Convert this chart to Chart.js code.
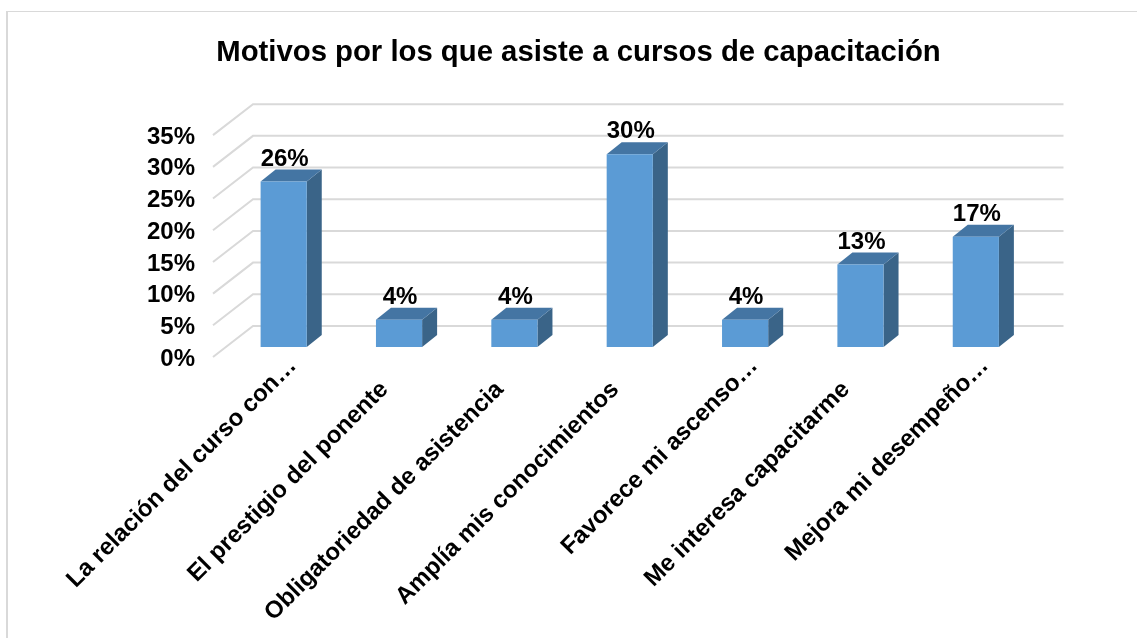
<!DOCTYPE html>
<html lang="es">
<head>
<meta charset="utf-8">
<title>Motivos por los que asiste a cursos de capacitación</title>
<script src="https://cdn.jsdelivr.net/npm/chart.js@4"></script>
<style>
    html, body { margin: 0; padding: 0; background: #fff; overflow: hidden; }
    #wrap { position: relative; width: 1137px; height: 638px; }
</style>
</head>
<body>
<div id="wrap"><canvas id="chart" width="1137" height="638"></canvas></div>
<script>
const categories = [
    'La relación del curso con…',
    'El prestigio del ponente',
    'Obligatoriedad de asistencia',
    'Amplía mis conocimientos',
    'Favorece mi ascenso…',
    'Me interesa capacitarme',
    'Mejora mi desempeño…'
];
const values = [26.1, 4.3, 4.3, 30.4, 4.3, 13, 17.4];
const yTicks = [0, 5, 10, 15, 20, 25, 30, 35];

const fontFamily = '"Liberation Sans", Arial, sans-serif';

// draws the frame, the back wall lines and the depth of the bars
const depthPlugin = {
    id: 'depth',
    beforeDatasetsDraw(chart) {
        const { ctx, chartArea, scales } = chart;
        ctx.save();

        // outer frame
        ctx.fillStyle = '#d9d9d9';
        ctx.fillRect(6, 11, 2, 627);
        ctx.fillRect(6, 11, 1131, 1);

        // wall lines
        ctx.strokeStyle = '#d9d9d9';
        ctx.lineWidth = 2;
        yTicks.forEach(t => {
            const p = scales.y.getPixelForValue(t);
            ctx.beginPath();
            ctx.moveTo(chartArea.left - 13, p + 10);
            ctx.lineTo(chartArea.left + 27, p - 21);
            ctx.lineTo(chartArea.right + 30, p - 21);
            ctx.stroke();
        });

        // side and top of each bar
        const dx = 15, dy = 12;
        chart.getDatasetMeta(0).data.forEach(bar => {
            const l = bar.x - bar.width / 2;
            const r = bar.x + bar.width / 2;
            ctx.fillStyle = '#3a6488';
            ctx.beginPath();
            ctx.moveTo(r, bar.y);
            ctx.lineTo(r + dx, bar.y - dy);
            ctx.lineTo(r + dx, bar.base - dy);
            ctx.lineTo(r, bar.base);
            ctx.closePath();
            ctx.fill();
            ctx.fillStyle = '#4475a3';
            ctx.beginPath();
            ctx.moveTo(l, bar.y);
            ctx.lineTo(l + dx, bar.y - dy);
            ctx.lineTo(r + dx, bar.y - dy);
            ctx.lineTo(r, bar.y);
            ctx.closePath();
            ctx.fill();
        });
        ctx.restore();
    },
    afterDatasetsDraw(chart) {
        const { ctx } = chart;
        ctx.save();
        ctx.fillStyle = '#000';
        ctx.font = 'bold 24px ' + fontFamily;
        ctx.textAlign = 'center';
        ctx.textBaseline = 'alphabetic';
        chart.getDatasetMeta(0).data.forEach((bar, i) => {
            ctx.fillText(Math.round(values[i]) + '%', bar.x + 1, bar.y - 16);
        });
        ctx.restore();
    }
};

new Chart(document.getElementById('chart'), {
    type: 'bar',
    data: {
        labels: categories,
        datasets: [{
            data: values,
            backgroundColor: '#5b9bd5',
            borderWidth: 0,
            categoryPercentage: 1,
            barPercentage: 0.4
        }]
    },
    options: {
        responsive: false,
        animation: false,
        layout: { padding: { left: 20, right: 0, top: 0, bottom: 0 } },
        plugins: {
            legend: { display: false },
            tooltip: { enabled: false },
            title: {
                display: true,
                text: 'Motivos por los que asiste a cursos de capacitación',
                color: '#000',
                font: { family: fontFamily, size: 29.3, weight: 'bold' },
                padding: { top: 35, bottom: 55 }
            }
        },
        scales: {
            x: {
                grid: { display: false },
                border: { display: false },
                ticks: {
                    color: '#000',
                    autoSkip: false,
                    minRotation: 45,
                    maxRotation: 45,
                    padding: -3,
                    labelOffset: 9,
                    // labels without the ellipsis sit further down their slant
                    callback: (v, i) => categories[i].endsWith('…') ? categories[i] : categories[i] + '     ',
                    font: { family: fontFamily, size: 24, weight: 'bold' }
                },
                afterFit(scale) {
                    scale.height = 291;
                    scale.paddingLeft = 0;
                    scale.paddingRight = 0;
                }
            },
            y: {
                min: 0,
                max: 35,
                grid: { display: false, drawTicks: false },
                border: { display: false },
                afterBuildTicks(scale) {
                    scale.ticks = yTicks.map(v => ({ value: v }));
                },
                ticks: {
                    color: '#000',
                    autoSkip: false,
                    padding: 31,
                    labelOffset: 12,
                    callback: v => v + '%',
                    font: { family: fontFamily, size: 24, weight: 'bold' }
                },
                afterFit(scale) {
                    scale.width = 206;
                    scale.paddingTop = 0;
                    scale.paddingBottom = 0;
                }
            },
            // empty axis, only keeps the plot clear of the right side
            spacer: {
                position: 'right',
                grid: { display: false, drawTicks: false },
                border: { display: false },
                ticks: { display: false },
                afterFit(scale) {
                    scale.width = 103.5;
                }
            }
        }
    },
    plugins: [depthPlugin]
});
</script>
</body>
</html>
